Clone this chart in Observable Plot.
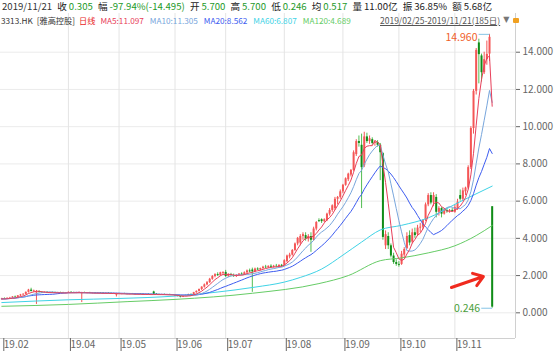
<!DOCTYPE html>
<html><head><meta charset="utf-8">
<script src="https://cdn.jsdelivr.net/npm/d3@7"></script>
<script src="https://cdn.jsdelivr.net/npm/@observablehq/plot@0.6"></script>
<style>
body{margin:0;background:#fff}
#wrap{position:relative;width:554px;height:354px;overflow:hidden;font-family:"Noto Sans CJK SC","Noto Sans",sans-serif;background:#fff}
.row{position:absolute;white-space:nowrap;display:flex;align-items:center}
.lock{display:inline-block;width:6px;height:5px;background:#f0a020;border-radius:1px}
</style></head><body>
<div id="wrap">
  <div id="chart" style="position:absolute;top:13px;left:0"></div>
  <div id="h1" class="row" style="top:0;left:2px;width:490px;height:13px;font-size:9.6px;line-height:13px;color:#222;justify-content:space-between"></div>
  <div id="h2" class="row" style="top:14px;left:1px;height:12px;font-size:8.2px;line-height:12px;color:#333"></div>
  <div id="h3" class="row" style="top:14px;left:380px;height:12px;font-size:8.5px;line-height:12px;color:#555"></div>
</div>
<script>
// ---------- data ----------
const opens = [
 0.70,0.75,0.74,0.78,0.80,0.85,0.83,0.91,0.96,0.99,1.10,1.22,1.15,1.06,
 1.14,1.10,1.08,1.10,1.07,1.09,1.08,1.06,1.08,1.07,1.05,
 1.07,1.10,1.08,1.06,1.08,1.02,1.08,1.06,1.07,1.05,1.06,1.04,1.06,1.05,1.03,1.05,1.04,1.02,0.95,
 1.02,1.00,1.02,1.01,0.99,1.01,1.00,0.98,1.00,0.99,0.97,0.99,0.98,1.12,1.00,0.98,0.97,0.98,0.96,0.97,0.95,
 0.95,0.92,0.88,0.84,0.90,0.92,0.98,0.95,1.08,1.15,1.25,1.38,1.50,1.62,1.80,1.95,2.05,2.00,2.12,
 2.17,1.95,2.05,2.00,1.95,2.02,2.08,2.05,2.15,2.25,2.30,2.20,2.35,2.30,2.38,2.45,2.42,2.50,2.45,2.50,2.48,2.55,
 2.55,2.75,3.00,3.10,3.35,3.70,3.75,4.10,4.15,3.95,4.10,3.90,4.50,4.95,5.00,4.90,4.95,5.30,5.50,5.60,6.10,6.20,
 6.50,6.85,7.15,7.40,7.65,8.50,9.20,9.00,7.90,9.45,9.20,9.30,9.10,9.15,9.00,8.55,3.60,4.10,3.60,3.05,2.70,2.60,
 2.60,3.10,3.45,4.15,3.80,4.30,4.20,4.55,4.60,5.00,5.80,6.30,5.90,6.20,5.40,5.60,5.30,5.50,5.45,5.50,
 5.40,5.60,6.30,6.10,6.50,6.70,7.80,9.90,11.90,14.50,13.80,12.90,13.60,13.90,5.70];
const highs = [
 0.78,0.80,0.80,0.83,0.87,0.90,0.93,0.99,1.03,1.12,1.26,1.32,1.22,1.20,
 1.18,1.14,1.12,1.13,1.11,1.12,1.11,1.10,1.11,1.10,1.09,
 1.12,1.13,1.11,1.10,1.12,1.10,1.11,1.09,1.10,1.08,1.09,1.08,1.09,1.08,1.07,1.08,1.07,1.06,1.05,
 1.05,1.04,1.05,1.04,1.03,1.04,1.03,1.02,1.03,1.02,1.01,1.02,1.01,1.16,1.03,1.01,1.00,1.01,0.99,1.00,0.98,
 0.98,0.95,0.90,0.92,0.96,1.00,1.02,1.10,1.18,1.28,1.40,1.55,1.68,1.85,2.00,2.10,2.15,2.18,2.20,
 2.28,2.10,2.12,2.08,2.05,2.10,2.15,2.20,2.30,2.35,2.40,2.40,2.42,2.40,2.50,2.55,2.52,2.58,2.55,2.60,2.58,2.60,
 2.85,3.10,3.20,3.40,3.75,4.05,4.20,4.30,4.30,4.20,4.30,4.60,4.90,5.05,5.05,5.05,5.35,5.60,5.80,6.20,6.25,6.60,
 6.90,7.25,7.50,7.70,8.70,9.30,9.50,9.60,9.70,9.65,9.50,9.40,9.25,9.25,9.10,8.60,4.40,4.30,3.70,3.20,2.85,2.75,
 3.30,3.50,4.30,4.40,4.50,4.55,4.70,4.80,5.00,5.90,6.40,6.45,6.45,6.35,5.70,5.65,5.60,5.60,5.55,5.60,
 5.80,6.10,6.60,6.70,6.75,7.90,10.00,12.00,14.20,14.70,13.90,14.00,14.60,14.96,5.70];
const lows = [
 0.68,0.72,0.72,0.75,0.78,0.80,0.81,0.87,0.92,0.96,1.06,1.12,1.08,0.45,
 1.06,1.05,1.04,1.05,1.04,1.05,1.04,1.03,1.05,1.03,1.02,
 1.04,1.06,1.04,1.03,1.05,0.55,1.04,1.02,1.03,1.01,1.02,1.01,1.02,1.01,1.00,1.01,1.00,0.99,0.85,
 0.98,0.97,0.98,0.97,0.96,0.97,0.96,0.95,0.96,0.95,0.94,0.95,0.94,0.98,0.96,0.95,0.94,0.94,0.93,0.93,0.92,
 0.88,0.85,0.80,0.82,0.86,0.90,0.93,0.94,1.05,1.12,1.20,1.33,1.45,1.58,1.75,1.88,1.95,1.97,2.05,
 1.90,1.90,1.95,1.90,1.90,1.98,2.00,2.02,2.10,2.15,1.10,2.15,2.28,2.25,2.33,2.38,2.38,2.40,2.40,2.42,2.42,2.45,
 2.50,2.70,2.90,3.05,3.30,3.60,3.60,3.90,3.85,3.80,3.25,3.85,4.40,4.85,4.80,4.85,4.90,5.20,5.40,5.50,5.80,6.10,
 6.40,6.80,7.05,7.30,7.60,8.40,8.90,5.60,7.80,9.10,9.05,9.00,8.95,8.90,7.10,3.90,3.40,3.40,2.95,2.60,2.50,2.45,
 2.55,2.95,3.40,3.60,3.70,4.00,4.10,4.30,4.45,4.90,5.70,5.80,5.70,5.10,5.20,5.10,5.25,5.35,5.35,5.40,
 5.35,5.50,6.00,6.00,6.30,6.60,7.70,9.60,11.70,12.30,12.40,12.80,13.30,13.50,0.246];
const closes = [
 0.75,0.74,0.78,0.80,0.85,0.83,0.91,0.96,0.99,1.10,1.22,1.15,1.18,1.14,
 1.10,1.08,1.10,1.07,1.09,1.08,1.06,1.08,1.07,1.05,1.07,
 1.10,1.08,1.06,1.08,1.09,1.08,1.06,1.07,1.05,1.06,1.04,1.06,1.05,1.03,1.05,1.04,1.02,1.04,1.02,
 1.00,1.02,1.01,0.99,1.01,1.00,0.98,1.00,0.99,0.97,0.99,0.98,0.96,1.00,0.98,0.97,0.98,0.96,0.97,0.95,0.96,
 0.92,0.88,0.84,0.90,0.92,0.98,0.95,1.08,1.15,1.25,1.38,1.50,1.62,1.80,1.95,2.05,2.00,2.15,2.17,
 1.95,2.05,2.00,1.95,2.02,2.08,2.05,2.15,2.25,2.20,2.20,2.35,2.30,2.38,2.45,2.42,2.50,2.45,2.50,2.48,2.55,2.50,
 2.80,3.05,3.10,3.35,3.70,4.00,4.10,4.20,3.95,4.10,3.90,4.50,4.85,4.90,4.90,5.00,5.30,5.50,5.75,6.10,6.20,6.50,
 6.85,7.20,7.45,7.65,8.60,9.20,9.10,7.80,9.45,9.20,9.35,9.10,9.15,9.00,8.60,4.05,4.20,3.60,3.05,2.70,2.60,2.55,
 3.15,3.40,4.10,3.75,4.30,4.15,4.55,4.60,4.95,5.80,6.30,5.90,6.30,5.40,5.60,5.30,5.50,5.45,5.50,5.45,
 5.65,5.95,6.10,6.55,6.70,7.80,9.90,11.90,14.10,13.87,12.90,13.60,13.88,14.80,0.305];

// MA60 / MA120 (trading-day index, value)
const ma60Idx  = [0,25,44,65,80,95,106,112,120,128,135,142,150,160,171,184];
const ma60Val  = [0.55,0.70,0.77,0.90,1.10,1.38,1.65,1.90,2.35,3.10,3.80,4.45,4.70,5.10,5.90,6.807];
const ma120Idx = [0,25,47,65,94,119,130,142,150,160,170,178,184];
const ma120Val = [0.35,0.45,0.60,0.72,1.05,1.57,2.00,2.80,2.95,3.22,3.60,4.15,4.689];

// axis ticks
const monthIdx    = [0,25,44,65,84,106,128,149,170];
const monthLabels = ["19.02","19.04","19.05","19.06","19.07","19.08","19.09","19.10","19.11"];
const yTicks = [0,2,4,6,8,10,12,14];

// header
const quoteDate   = "2019/11/21";
const quoteLabels = ["收","幅","开","高","低","均","量","振","额"];
const quoteValues = ["0.305","-97.94%(-14.495)","5.700","5.700","0.246","0.517","11.00亿","36.85%","5.68亿"];
const quoteDown   = [true,true,true,true,true,true,false,false,false];
const maNames = ["MA5","MA10","MA20","MA60","MA120"];
const maLast  = ["11.097","11.305","8.562","6.807","4.689"];
const stockCode = "3313.HK", stockName = "[雅高控股]", period = "日线";
const rangeText = "2019/02/25-2019/11/21(185日)";

// red annotation arrow (index, value)
const arrowFrom = [168.7, 1.36];
const arrowTo   = [180.7, 1.95];

// ---------- styles ----------
const upColor = "#f45656", downBody = "#108c18", downWick = "#52bd52";
const maColors = ["#e8405a","#78a6dc","#3d5cf0","#3fd3e6","#66cc66"];
const greenText = "#1e9a2a";

// ---------- header ----------
let html1 = `<span style="color:#333">${quoteDate}</span>`;
quoteLabels.forEach((lab,k)=>{
  html1 += `<span><span style="color:#222">${lab}</span>&thinsp;<span style="color:${quoteDown[k]?greenText:"#222"}">${quoteValues[k]}</span></span>`;
});
document.getElementById("h1").innerHTML = html1;
let html2 = `<span style="color:#333">${stockCode}</span>`+
  `<span style="color:#333;margin-left:4px">${stockName}</span>`+
  `<span style="color:#e8261e;margin-left:4px">${period}</span>`;
maNames.forEach((n,k)=>{ html2 += `<span style="color:${maColors[k]};margin-left:${k===0?5:6}px">${n}:${maLast[k]}</span>`; });
document.getElementById("h2").innerHTML = html2;
document.getElementById("h3").innerHTML =
  `<span style="text-decoration:underline">${rangeText}</span>`+
  `<span style="color:#777;font-family:'DejaVu Sans';font-size:8px;margin-left:3px">▼</span>`+
  `<span class="lock" style="margin-left:4px"></span>`;

// ---------- chart ----------
const data = closes.map((c,i)=>({i, o:opens[i], h:highs[i], l:lows[i], c, up: c>=opens[i]}));
const xDomain = [-0.49, 192.75];
const yDomain = [-1.38, 16.08];
const ma60 = ma60Idx.map((x,j)=>({x, y:ma60Val[j]}));
const ma120 = ma120Idx.map((x,j)=>({x, y:ma120Val[j]}));
const maxD = data.reduce((a,b)=> b.h > a.h ? b : a);
const minD = data.reduce((a,b)=> b.l < a.l ? b : a);
const fmt3 = d3.format(".3f");

const chart = Plot.plot({
  width: 554, height: 341,
  marginLeft: 0, marginRight: 39, marginTop: 0, marginBottom: 16,
  x: {domain: xDomain},
  y: {domain: yDomain},
  color: {type: "identity"},
  style: {fontFamily: "'Noto Sans CJK SC','Noto Sans',sans-serif", fontSize: "10px", background: "transparent", overflow: "visible"},
  marks: [
    Plot.ruleY(yTicks, {stroke: "#ebebeb"}),
    Plot.ruleX(monthIdx.slice(1), {stroke: "#e4e4e4"}),
    Plot.ruleY([yDomain[0]], {stroke: "#d0d0d0"}),
    Plot.ruleX([xDomain[1]], {stroke: "#d0d0d0"}),
    // candles
    Plot.ruleX(data, {x: "i", y1: "l", y2: "h", stroke: d => d.up ? upColor : downWick, strokeWidth: 1}),
    Plot.ruleX(data, {x: "i", y1: "o", y2: "c", stroke: d => d.up ? upColor : downBody, strokeWidth: 2}),
    // moving averages
    Plot.line(ma120, {x: "x", y: "y", stroke: maColors[4], strokeWidth: 1, curve: "monotone-x"}),
    Plot.line(ma60, {x: "x", y: "y", stroke: maColors[3], strokeWidth: 1, curve: "monotone-x"}),
    Plot.lineY(data, Plot.windowY({k: 20, anchor: "end"}, {x: "i", y: "c", stroke: maColors[2], strokeWidth: 1})),
    Plot.lineY(data, Plot.windowY({k: 10, anchor: "end"}, {x: "i", y: "c", stroke: maColors[1], strokeWidth: 1})),
    Plot.lineY(data, Plot.windowY({k: 5, anchor: "end"}, {x: "i", y: "c", stroke: maColors[0], strokeWidth: 1})),
    // max / min annotations
    Plot.link([maxD], {x1: d => d.i - 4.1, x2: "i", y1: "h", y2: "h", stroke: "#86c4e6"}),
    Plot.text([maxD], {x: "i", y: "h", text: d => fmt3(d.h), textAnchor: "end", dx: -12, dy: 3, fill: "#f0602a", fontSize: 10.5}),
    Plot.link([minD], {x1: d => d.i - 4.1, x2: "i", y1: "l", y2: "l", stroke: "#86c4e6"}),
    Plot.text([minD], {x: "i", y: "l", text: d => fmt3(d.l), textAnchor: "end", dx: -12, dy: 0, fill: "#4a9e3a", fontSize: 10.5}),
    Plot.arrow([{x1: arrowFrom[0], y1: arrowFrom[1], x2: arrowTo[0], y2: arrowTo[1]}],
      {x1: "x1", y1: "y1", x2: "x2", y2: "y2", stroke: "#f02a1e", strokeWidth: 3, headLength: 9, headAngle: 70}),
    // axes
    Plot.axisY({ticks: yTicks, anchor: "right", tickFormat: fmt3, tickSize: 4, tickPadding: 3, color: "#666", fontSize: 10}),
    Plot.axisX({ticks: monthIdx, anchor: "bottom", tickFormat: d => monthLabels[monthIdx.indexOf(d)],
      textAnchor: "start", tickSize: 13, tickPadding: -11, dx: 2, color: "#666", fontSize: 10})
  ]
});
document.getElementById("chart").appendChild(chart);
</script>
</body></html>
